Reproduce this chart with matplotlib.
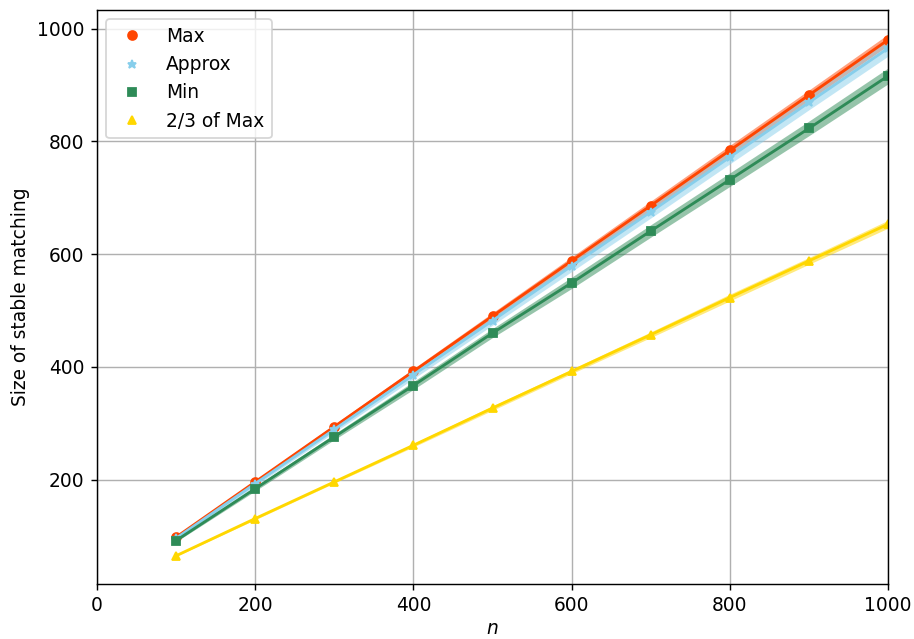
import matplotlib
matplotlib.use("Agg")
import matplotlib.pyplot as plt
import numpy as np

n = [100, 200, 300, 400, 500, 600, 700, 800, 900, 1000]

max_size = [98, 196, 294, 392, 490, 588, 686, 784, 882, 980]
max_spread = [2, 3, 4, 5, 6, 7, 8, 9, 9, 10]

approx_size = [96, 193, 289, 386, 482, 579, 675, 772, 869, 965]
approx_spread = [2, 4, 5, 7, 8, 10, 11, 12, 13, 14]

min_size = [92, 184, 276, 367, 460, 549, 641, 732, 823, 916]
min_spread = [2, 4, 5, 7, 8, 10, 11, 12, 13, 14]

twothirds_size = [65, 131, 196, 261, 327, 392, 457, 523, 588, 653]
twothirds_spread = [1, 2, 2, 3, 4, 4, 5, 6, 6, 7]

series = [
    ("Max", max_size, max_spread, "orangered", "o"),
    ("Approx", approx_size, approx_spread, "skyblue", "*"),
    ("Min", min_size, min_spread, "seagreen", "s"),
    ("2/3 of Max", twothirds_size, twothirds_spread, "gold", "^"),
]

plt.rcParams['font.size'] = 10.5

fig = plt.figure(figsize=(914/128, 639/128), dpi=128)
ax = fig.add_axes([0.1061, 0.0861, 0.8655, 0.8983])

for label, y, s, col, mk in series:
    y = np.array(y)
    s = np.array(s)
    ax.fill_between(n, y - s, y + s, color=col, alpha=0.5, linewidth=0)
    ax.plot(n, y, color=col, linewidth=1.6)
    ax.plot(n, y, linestyle="none", marker=mk, color=col, markersize=5, label=label)

ax.set_xlim(0, 1000)
ax.set_ylim(15, 1033)
ax.set_yticks([200, 400, 600, 800, 1000])
ax.grid(True)
ax.set_axisbelow(True)
ax.set_xlabel("$n$", labelpad=2)
ax.set_ylabel("Size of stable matching")
ax.legend(loc="upper left")

fig.savefig("out.png", dpi=128)
